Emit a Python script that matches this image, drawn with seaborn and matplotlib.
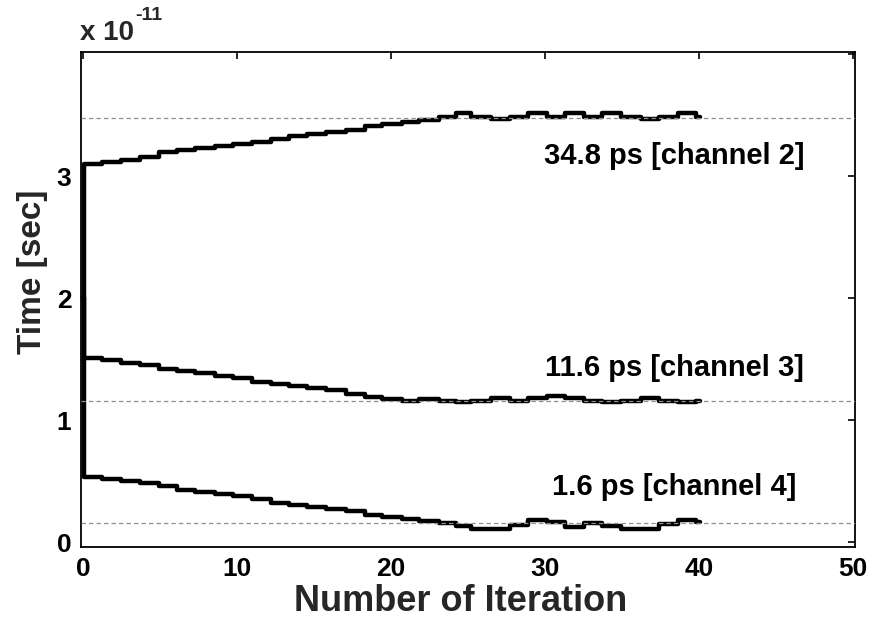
import matplotlib
matplotlib.use("Agg")
import matplotlib.pyplot as plt
import numpy as np
import pandas as pd
import seaborn as sns

# ---- data (time in units of 1e-11 s) ----
iteration = [0, 0.1, 1.25, 2.5, 3.7, 4.95, 6.1, 7.3, 8.55, 9.75, 10.95, 12.2, 13.4,
             14.55, 15.8, 17.1, 18.3, 19.4, 20.7, 21.8, 23.1, 24.2, 25.2, 26.5,
             27.7, 28.9, 30.1, 31.3, 32.5, 33.7, 34.9, 36.2, 37.4, 38.6, 39.8, 40.05]

channel2 = [2.0, 3.10, 3.115, 3.137, 3.156, 3.197, 3.213, 3.23, 3.246, 3.265, 3.281,
            3.309, 3.327, 3.344, 3.362, 3.379, 3.415, 3.431, 3.447, 3.464, 3.488,
            3.52, 3.49, 3.47, 3.49, 3.52, 3.49, 3.52, 3.49, 3.52, 3.49, 3.47,
            3.49, 3.52, 3.49, 3.49]

channel3 = [2.0, 1.51, 1.495, 1.473, 1.451, 1.419, 1.40, 1.384, 1.364, 1.345, 1.313,
            1.296, 1.278, 1.261, 1.245, 1.212, 1.193, 1.174, 1.158, 1.176, 1.158,
            1.147, 1.16, 1.18, 1.16, 1.18, 1.196, 1.18, 1.16, 1.147, 1.16, 1.18,
            1.16, 1.147, 1.16, 1.16]

channel4 = [2.0, 0.535, 0.519, 0.50, 0.481, 0.459, 0.426, 0.41, 0.391, 0.375, 0.356,
            0.323, 0.304, 0.287, 0.271, 0.255, 0.22, 0.203, 0.187, 0.171, 0.154,
            0.132, 0.105, 0.11, 0.14, 0.181, 0.165, 0.125, 0.16, 0.13, 0.105,
            0.105, 0.145, 0.181, 0.165, 0.165]

targets = [3.48, 1.16, 0.16]
labels = ["34.8 ps [channel 2]", "11.6 ps [channel 3]", "1.6 ps [channel 4]"]
label_y = [3.17, 1.43, 0.45]

xticks = [0, 10, 20, 30, 40, 50]
yticks = [0, 1, 2, 3, 4]
yticklabels = ["0", "1", "2", "3", ""]

# ---- style ----
sns.set_theme(style="white")
plt.rcParams["font.family"] = ["Liberation Sans", "DejaVu Sans"]
plt.rcParams["font.weight"] = "bold"
plt.rcParams["axes.labelweight"] = "bold"

W, H = 873, 623
fig = plt.figure(figsize=(W / 100, H / 100), dpi=100)
ax = fig.add_axes([81 / W, (H - 547) / H, (855 - 81) / W, (547 - 52) / H])

for series in (channel2, channel3, channel4):
    df = pd.DataFrame({"iteration": iteration, "time": series})
    sns.lineplot(data=df, x="iteration", y="time", ax=ax, color="black", lw=3.2,
                 drawstyle="steps-post", estimator=None, sort=False, zorder=2)

for t in targets:
    ax.axhline(t, color="#8f8f8f", lw=0.9, ls=(0, (3.5, 2.5)), zorder=3)

for txt, ly in zip(labels, label_y):
    ax.text(38.4, ly, txt, ha="center", va="center", fontsize=21, fontweight="bold",
            color="black")

ax.set_xlim(-0.12, 50.12)
ax.set_ylim(-0.04, 4.02)
ax.set_xticks(xticks)
ax.set_xticklabels([str(v) for v in xticks])
ax.set_yticks(yticks)
ax.set_yticklabels(yticklabels)
ax.tick_params(direction="in", length=5, width=1.2, top=True, right=True,
               labelsize=19, colors="black", pad=7)
for lab in ax.get_xticklabels() + ax.get_yticklabels():
    lab.set_fontweight("bold")
for sp in ax.spines.values():
    sp.set_color("black")
    sp.set_linewidth(1.3)

ax.set_xlabel("Number of Iteration", fontsize=26, fontweight="bold", labelpad=1)
ax.xaxis.set_label_coords(0.49, -0.075, transform=ax.transAxes)
ax.xaxis.label.set_va("top")
ax.set_ylabel("Time [sec]", fontsize=24, fontweight="bold")
ax.yaxis.set_label_coords(-0.043, 0.555, transform=ax.transAxes)

fig.text(80 / W, 1 - 40 / H, "x 10", fontsize=20, fontweight="bold", ha="left",
         va="baseline")
fig.text(135 / W, 1 - 20 / H, "-11", fontsize=14, fontweight="bold", ha="left",
         va="baseline")

fig.savefig("out.png", dpi=100, facecolor="white")
